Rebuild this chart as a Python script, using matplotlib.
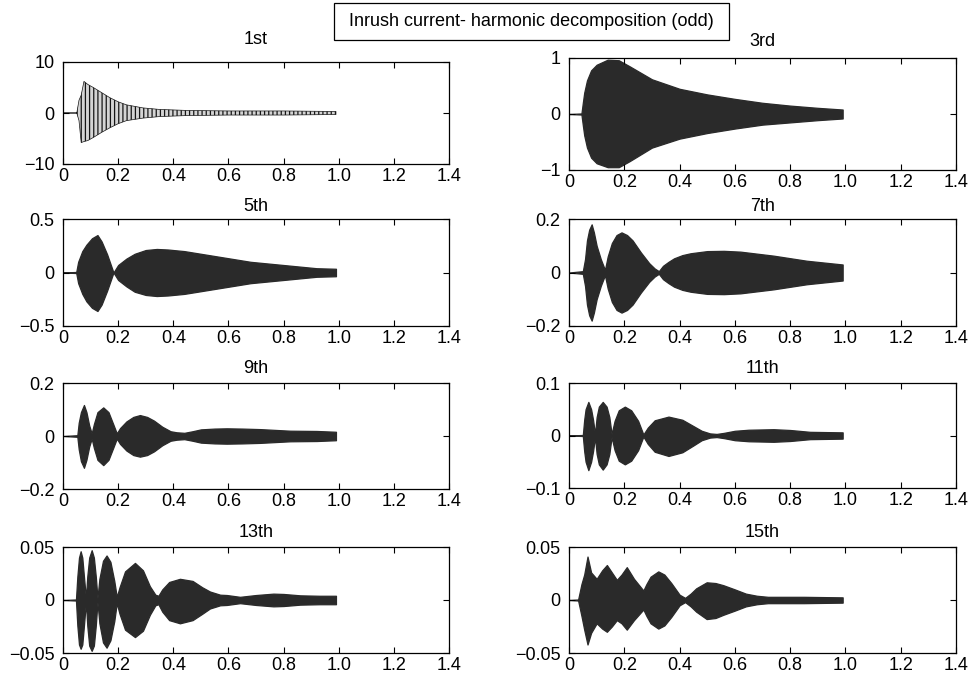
import matplotlib
matplotlib.use('Agg')
import matplotlib.pyplot as plt
from matplotlib.patches import Rectangle

plt.rcParams['font.family'] = ['Liberation Sans', 'DejaVu Sans']
plt.rcParams['hatch.linewidth'] = 0.9

# envelope readings (time in s, upper / lower amplitude) for each odd harmonic
t_1st = [0.0, 0.05, 0.058, 0.066, 0.076, 0.09, 0.11, 0.14, 0.17, 0.2, 0.23, 0.29, 0.35, 0.45, 0.6, 0.8, 0.99]
up_1st = [0, 0, 2.5, 3.5, 6.2, 5.6, 5.0, 4.0, 3.0, 2.2, 1.6, 1.0, 0.7, 0.5, 0.4, 0.4, 0.3]
lo_1st = [0, 0, -1.5, -5.8, -5.6, -5.4, -4.8, -3.8, -2.9, -2.1, -1.5, -1.0, -0.7, -0.5, -0.4, -0.4, -0.3]

t_3rd = [0.0, 0.045, 0.05, 0.055, 0.065, 0.08, 0.1, 0.14, 0.18, 0.22, 0.3, 0.4, 0.5, 0.6, 0.7, 0.8, 0.9, 0.99]
up_3rd = [0.0, 0.01, 0.2, 0.38, 0.6, 0.78, 0.88, 0.97, 0.96, 0.85, 0.62, 0.45, 0.35, 0.27, 0.2, 0.15, 0.11, 0.08]
lo_3rd = [0.0, -0.01, -0.2, -0.38, -0.6, -0.78, -0.88, -0.95, -0.95, -0.84, -0.6, -0.44, -0.34, -0.26, -0.19, -0.15, -0.11, -0.08]

t_5th = [0.0, 0.048, 0.055, 0.07, 0.085, 0.105, 0.125, 0.14, 0.16, 0.183, 0.2, 0.23, 0.26, 0.3, 0.34, 0.38, 0.44, 0.56, 0.68, 0.8, 0.92, 0.99]
up_5th = [0.0, 0.005, 0.1, 0.2, 0.26, 0.32, 0.35, 0.29, 0.17, 0.0, 0.07, 0.13, 0.175, 0.21, 0.22, 0.215, 0.2, 0.15, 0.1, 0.07, 0.04, 0.035]
lo_5th = [0.0, -0.005, -0.1, -0.2, -0.27, -0.33, -0.36, -0.3, -0.17, 0.0, -0.07, -0.13, -0.18, -0.21, -0.22, -0.215, -0.2, -0.15, -0.1, -0.07, -0.04, -0.035]

t_7th = [0.0, 0.05, 0.058, 0.065, 0.073, 0.082, 0.09, 0.1, 0.115, 0.13, 0.14, 0.155, 0.172, 0.19, 0.21, 0.23, 0.26, 0.29, 0.31, 0.325,
         0.34, 0.36, 0.38, 0.41, 0.44, 0.5, 0.56, 0.62, 0.74, 0.86, 0.99]
up_7th = [0.0, 0.005, 0.05, 0.12, 0.16, 0.18, 0.15, 0.1, 0.05, 0.01, 0.06, 0.11, 0.14, 0.15, 0.14, 0.12, 0.075, 0.035, 0.015, 0.005,
          0.025, 0.04, 0.053, 0.065, 0.072, 0.08, 0.081, 0.078, 0.063, 0.044, 0.03]
lo_7th = [0.0, -0.005, -0.05, -0.12, -0.16, -0.18, -0.15, -0.1, -0.05, -0.01, -0.06, -0.11, -0.14, -0.15, -0.14, -0.12, -0.075, -0.035, -0.015, -0.005,
          -0.025, -0.04, -0.053, -0.065, -0.072, -0.08, -0.081, -0.078, -0.063, -0.044, -0.03]

t_9th = [0.0, 0.052, 0.057, 0.065, 0.076, 0.085, 0.095, 0.104, 0.112, 0.125, 0.146, 0.165, 0.182, 0.195, 0.207, 0.23, 0.255,
         0.279, 0.305, 0.33, 0.36, 0.39, 0.412, 0.44, 0.47, 0.5, 0.55, 0.594, 0.65, 0.715, 0.824, 0.92, 0.99]
up_9th = [0.0, 0.003, 0.05, 0.09, 0.117, 0.09, 0.04, 0.01, 0.045, 0.09, 0.108, 0.09, 0.045, 0.01, 0.03, 0.055, 0.072,
          0.079, 0.072, 0.058, 0.035, 0.018, 0.014, 0.012, 0.018, 0.025, 0.028, 0.029, 0.028, 0.026, 0.02, 0.019, 0.016]
lo_9th = [0.0, -0.003, -0.05, -0.095, -0.12, -0.09, -0.04, -0.01, -0.045, -0.09, -0.11, -0.09, -0.045, -0.01, -0.03, -0.055, -0.072,
          -0.078, -0.072, -0.058, -0.035, -0.018, -0.014, -0.012, -0.018, -0.025, -0.028, -0.029, -0.028, -0.026, -0.02, -0.019, -0.016]

t_11th = [0.0, 0.05, 0.055, 0.06, 0.07, 0.08, 0.087, 0.094, 0.1, 0.108, 0.122, 0.136, 0.146, 0.154, 0.165, 0.18, 0.202, 0.225,
          0.25, 0.269, 0.285, 0.31, 0.36, 0.41, 0.45, 0.48, 0.51, 0.534, 0.56, 0.6, 0.65, 0.74, 0.8, 0.872, 0.99]
up_11th = [0.0, 0.001, 0.03, 0.05, 0.064, 0.05, 0.03, 0.003, 0.035, 0.055, 0.064, 0.055, 0.035, 0.003, 0.028, 0.048, 0.055, 0.048,
           0.028, 0.002, 0.015, 0.029, 0.036, 0.03, 0.018, 0.009, 0.004, 0.003, 0.005, 0.009, 0.011, 0.012, 0.0105, 0.007, 0.006]
lo_11th = [0.0, -0.001, -0.03, -0.05, -0.066, -0.05, -0.03, -0.003, -0.035, -0.055, -0.065, -0.055, -0.035, -0.003, -0.028, -0.048, -0.055, -0.048,
           -0.028, -0.002, -0.016, -0.031, -0.039, -0.032, -0.019, -0.009, -0.004, -0.003, -0.005, -0.009, -0.011, -0.012, -0.0105, -0.007, -0.006]

t_13th = [0.0, 0.047, 0.052, 0.058, 0.064, 0.07, 0.076, 0.083, 0.088, 0.095, 0.104, 0.112, 0.119, 0.125, 0.132, 0.145, 0.158, 0.172, 0.186, 0.195,
          0.205, 0.225, 0.261, 0.29, 0.315, 0.335, 0.346, 0.36, 0.385, 0.424, 0.47, 0.505, 0.533, 0.57, 0.594, 0.642, 0.7, 0.763, 0.8, 0.86, 0.93, 0.99]
up_13th = [0.0, 0.0005, 0.022, 0.04, 0.046, 0.04, 0.022, 0.002, 0.022, 0.04, 0.047, 0.04, 0.022, 0.002, 0.02, 0.037, 0.042, 0.036, 0.018, 0.003,
           0.012, 0.027, 0.035, 0.028, 0.013, 0.005, 0.004, 0.01, 0.017, 0.02, 0.018, 0.012, 0.008, 0.005, 0.0047, 0.003, 0.0047, 0.006, 0.0057, 0.0044, 0.004, 0.004]
lo_13th = [0.0, -0.0005, -0.024, -0.042, -0.046, -0.042, -0.024, -0.002, -0.024, -0.043, -0.048, -0.043, -0.024, -0.002, -0.022, -0.04, -0.045, -0.038, -0.02, -0.003,
           -0.013, -0.028, -0.035, -0.029, -0.014, -0.005, -0.004, -0.011, -0.019, -0.022, -0.019, -0.013, -0.008, -0.005, -0.0047, -0.003, -0.0047, -0.006, -0.0057, -0.0044, -0.004, -0.004]

t_15th = [0.0, 0.033, 0.045, 0.055, 0.067, 0.08, 0.1, 0.12, 0.137, 0.155, 0.173, 0.19, 0.209, 0.235, 0.269, 0.28, 0.295, 0.323, 0.345, 0.37, 0.4, 0.42,
          0.44, 0.46, 0.498, 0.53, 0.558, 0.6, 0.64, 0.68, 0.72, 0.85, 0.99]
up_15th = [0.0, 0.0005, 0.015, 0.024, 0.041, 0.026, 0.02, 0.028, 0.033, 0.026, 0.019, 0.024, 0.031, 0.02, 0.009, 0.015, 0.022, 0.027, 0.024, 0.016, 0.005, 0.002,
           0.006, 0.011, 0.0167, 0.016, 0.014, 0.01, 0.006, 0.004, 0.003, 0.003, 0.0025]
lo_15th = [0.0, -0.0005, -0.015, -0.028, -0.042, -0.031, -0.022, -0.027, -0.03, -0.025, -0.019, -0.022, -0.028, -0.019, -0.009, -0.015, -0.022, -0.027, -0.024, -0.016, -0.005, -0.002,
           -0.006, -0.011, -0.018, -0.017, -0.014, -0.01, -0.006, -0.004, -0.003, -0.003, -0.0025]

titles = ['1st', '3rd', '5th', '7th', '9th', '11th', '13th', '15th']
ylims = [10, 1, 0.5, 0.2, 0.2, 0.1, 0.05, 0.05]
ylabels = [['\u221210', '0', '10'], ['\u22121', '0', '1'], ['\u22120.5', '0', '0.5'], ['\u22120.2', '0', '0.2'],
           ['\u22120.2', '0', '0.2'], ['\u22120.1', '0', '0.1'], ['\u22120.05', '0', '0.05'], ['\u22120.05', '0', '0.05']]
xticks = [0, 0.2, 0.4, 0.6, 0.8, 1.0, 1.2, 1.4]
xlabels = ['0', '0.2', '0.4', '0.6', '0.8', '1.0', '1.2', '1.4']

series = [(t_1st, up_1st, lo_1st), (t_3rd, up_3rd, lo_3rd), (t_5th, up_5th, lo_5th), (t_7th, up_7th, lo_7th),
          (t_9th, up_9th, lo_9th), (t_11th, up_11th, lo_11th), (t_13th, up_13th, lo_13th), (t_15th, up_15th, lo_15th)]

W, H = 971, 682
fig = plt.figure(figsize=(W / 100, H / 100), dpi=100)

# axes boxes in pixels: left, top, right, bottom
boxes = [(63, 62, 449, 164), (569, 58, 956, 170),
         (63, 219, 449, 326), (569, 219, 956, 326),
         (63, 383, 449, 489), (569, 383, 956, 488),
         (63, 547, 449, 653), (569, 547, 956, 653)]
title_pads = [13, 8.5, 5.8, 5.8, 7, 7, 7, 7]

ink = '#2a2a2a'
for i, (t, up, lo) in enumerate(series):
    l, tp, r, b = boxes[i]
    ax = fig.add_axes([l / W, 1 - b / H, (r - l) / W, (b - tp) / H])
    if i == 0:
        # fundamental: individual cycles still visible, drawn as dense strokes
        ax.fill_between(t, lo, up, facecolor='#d4d4d4', edgecolor='#151515', hatch='||||', linewidth=0.5)
    else:
        ax.fill_between(t, lo, up, facecolor=ink, edgecolor=ink, linewidth=0.9)
    ax.set_xlim(0, 1.4)
    ax.set_ylim(-ylims[i], ylims[i])
    ax.set_xticks(xticks)
    ax.set_xticklabels(xlabels)
    ax.set_yticks([-ylims[i], 0, ylims[i]])
    ax.set_yticklabels(ylabels[i])
    ax.tick_params(direction='in', top=True, right=True, length=4, width=0.8, labelsize=13)
    ax.tick_params(axis='x', pad=3)
    ax.tick_params(axis='y', pad=6)
    for s in ax.spines.values():
        s.set_linewidth(0.9)
    ax.set_title(titles[i], fontsize=13, pad=title_pads[i])

fig.patches.append(Rectangle((334 / W, 1 - 40 / H), 395 / W, 37 / H, transform=fig.transFigure,
                             fill=False, edgecolor='black', linewidth=0.9))
fig.text(531.5 / W, 1 - 21.5 / H, 'Inrush current- harmonic decomposition (odd)', ha='center', va='center', fontsize=13)

fig.savefig('out.png', dpi=100)
